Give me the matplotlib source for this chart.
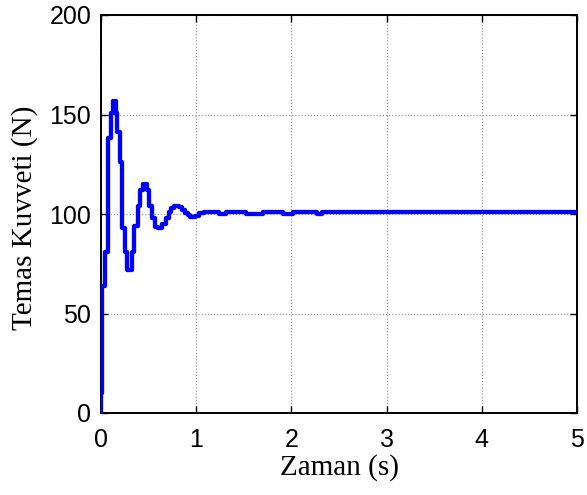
import matplotlib
matplotlib.use("Agg")
import matplotlib.pyplot as plt

# Contact force response (zero-order-hold samples)
time_s = [0.000, 0.005, 0.012, 0.040, 0.075, 0.108, 0.128, 0.155, 0.168, 0.198,
          0.222, 0.247, 0.275, 0.322, 0.350, 0.385, 0.412, 0.440, 0.484, 0.500,
          0.535, 0.568, 0.600, 0.645, 0.680, 0.710, 0.740, 0.770, 0.820, 0.850,
          0.880, 0.910, 0.940, 0.990, 1.030, 1.080, 1.240, 1.310, 1.520, 1.700,
          1.910, 2.020, 2.270, 2.320, 5.000]
force_N = [0, 10, 64, 81, 138, 151, 157, 151, 141, 126,
           93, 81, 72, 81, 94, 104, 112, 115, 112, 104,
           98, 93.5, 93, 95, 98, 101, 103, 104, 103.5, 102,
           100.5, 99.3, 98.5, 99.2, 100.3, 100.8, 100, 100.8, 100, 100.8,
           100, 100.8, 100, 100.8, 100.8]

x_ticks = [0, 1, 2, 3, 4, 5]
y_ticks = [0, 50, 100, 150, 200]

fig = plt.figure(figsize=(5.87, 4.95), dpi=100)
ax = fig.add_axes([101 / 587, 82 / 495, 476 / 587, 398 / 495])

ax.plot(time_s, force_N, color="#0000ff", lw=3.1, drawstyle="steps-post",
        solid_joinstyle="round", solid_capstyle="round", zorder=3)

ax.set_xlim(0, 5)
ax.set_ylim(0, 200)
ax.set_xticks(x_ticks)
ax.set_yticks(y_ticks)

ax.grid(True, color="#a0a0a0", linestyle=(0, (1, 1.5)), linewidth=0.9)
ax.set_axisbelow(True)

for s in ax.spines.values():
    s.set_linewidth(1.4)
    s.set_color("black")

ax.tick_params(direction="in", length=5, width=1.0, top=True, right=True,
               labelsize=18)
ax.tick_params(axis="x", pad=11)
ax.tick_params(axis="y", pad=7)
for lbl in ax.get_xticklabels() + ax.get_yticklabels():
    lbl.set_fontfamily("Liberation Sans")

ax.set_xlabel("Zaman (s)", fontsize=21, family="Liberation Serif")
ax.set_ylabel("Temas Kuvveti (N)", fontsize=21, family="Liberation Serif")
ax.xaxis.set_label_coords(0.5, -0.103)
ax.yaxis.set_label_coords(-0.133, 0.49)

fig.savefig("out.png", dpi=100)
